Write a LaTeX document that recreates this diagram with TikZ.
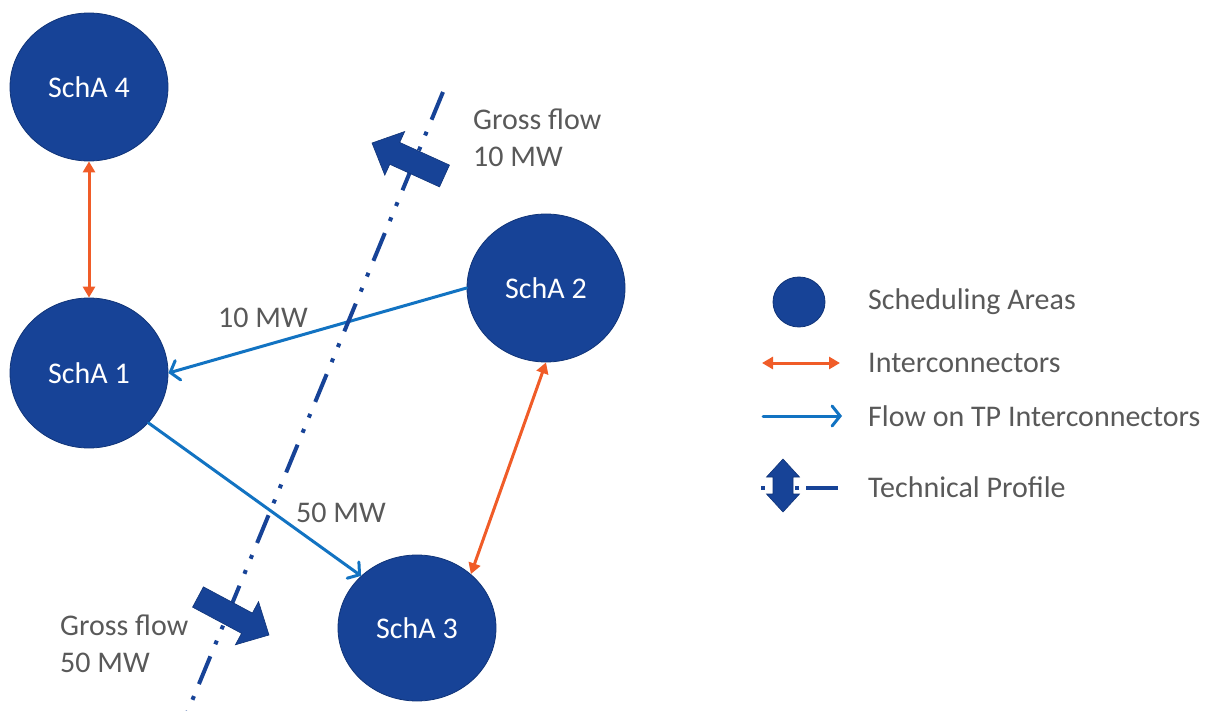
\documentclass[tikz,border=0pt]{standalone}
\usepackage{fontspec}
\setmainfont{Carlito}
\usetikzlibrary{arrows.meta,shapes.geometric,calc}
\definecolor{areablue}{RGB}{23,67,151}
\definecolor{areaedge}{RGB}{16,52,120}
\definecolor{flowblue}{RGB}{18,115,194}
\definecolor{icorange}{RGB}{240,92,40}
\definecolor{txtgray}{RGB}{89,89,89}
\tikzset{
  area/.style={ellipse, fill=areablue, draw=areaedge, line width=0.8pt, inner sep=0pt,
    text=white, font=\fontsize{30}{36}\selectfont},
  lbl/.style={text=txtgray, font=\fontsize{30}{37}\selectfont, inner sep=0pt},
  icarrow/.style={draw=icorange, line width=3pt,
    {Triangle[length=11pt,width=12pt]}-{Triangle[length=11pt,width=12pt]}, shorten <=0pt, shorten >=0pt},
  flowarrow/.style={draw=flowblue, line width=3pt, line cap=round,
    -{Straight Barb[length=8pt,width=20pt,line cap=round]}},
  profile/.style={draw=areablue, line width=4pt,
    dash pattern=on 30pt off 13pt on 4pt off 12.3pt on 4pt off 13pt},
  blockarrow/.style={fill=areablue, draw=areaedge, line width=0.6pt}
}
\begin{document}
\begin{tikzpicture}[x=1pt,y=-1pt]
\useasboundingbox (0,0) rectangle (1207,711);
% scheduling areas
\node[area, minimum width=158pt, minimum height=148pt] (s4) at (89,87) {SchA 4};
\node[area, minimum width=158pt, minimum height=150pt] (s1) at (89,373) {SchA 1};
\node[area, minimum width=158pt, minimum height=148pt] (s2) at (546,288) {SchA 2};
\node[area, minimum width=158pt, minimum height=146pt] (s3) at (417,628) {SchA 3};
% interconnectors
\draw[icarrow] (s4) -- (s1);
\draw[icarrow] (s2.south) -- (s3.45);
% flows
\draw[flowarrow] (s2.west) -- (s1.east);
\draw[flowarrow] (s1.-40) -- (s3.137);
\node[lbl] (l10) at (263,318) {10 MW};
\node[lbl] (l50) at (341,513) {50 MW};
% technical profile line
\coordinate (pa) at (443,92);
\coordinate (pb) at (187,713);
\draw[profile] (pa) -- (pb);
% gross flow block arrows
\coordinate (t1) at (444.5,176);
\coordinate (p1) at (372,143);
\coordinate (h1) at ($(p1)!25pt!(t1)$);
\fill[blockarrow] ($(t1)!12pt!90:(p1)$) -- ($(h1)!12pt!-90:(t1)$) -- ($(h1)!24pt!-90:(t1)$) -- (p1)
  -- ($(h1)!24pt!90:(t1)$) -- ($(h1)!12pt!90:(t1)$) -- ($(t1)!12pt!-90:(p1)$) -- cycle;
\coordinate (t2) at (198,597);
\coordinate (p2) at (269,635);
\coordinate (h2) at ($(p2)!25pt!(t2)$);
\fill[blockarrow] ($(t2)!11.5pt!90:(p2)$) -- ($(h2)!11.5pt!-90:(t2)$) -- ($(h2)!24.5pt!-90:(t2)$) -- (p2)
  -- ($(h2)!24.5pt!90:(t2)$) -- ($(h2)!11.5pt!90:(t2)$) -- ($(t2)!11.5pt!-90:(p2)$) -- cycle;
\node[lbl, align=left, anchor=west] (g10) at (473,138) {Gross flow\\10 MW};
\node[lbl, align=left, anchor=west] (g50) at (60,644) {Gross flow\\50 MW};
% legend
\node[area, minimum width=52pt, minimum height=50pt] (lg1) at (799,302) {};
\node[lbl, anchor=west] (lt1) at (868,302) {Scheduling Areas};
\coordinate (la1) at (762,363);
\coordinate (lb1) at (840,363);
\draw[icarrow] (la1) -- (lb1);
\node[lbl, anchor=west] (lt2) at (868,363) {Interconnectors};
\coordinate (la2) at (763,416);
\coordinate (lb2) at (842,416);
\draw[flowarrow] (la2) -- (lb2);
\node[lbl, anchor=west] (lt3) at (868,416) {Flow on TP Interconnectors};
\coordinate (la3) at (761,488);
\coordinate (lb3) at (840,488);
\draw[draw=areablue, line width=4pt, dash pattern=on 4pt off 30pt on 4pt off 7pt on 32pt] (la3) -- (lb3);
\fill[blockarrow] (783,459) -- (799.5,477) -- (793,477) -- (793,494) -- (799.5,494) -- (783,512)
  -- (766.5,494) -- (773,494) -- (773,477) -- (766.5,477) -- cycle;
\node[lbl, anchor=west] (lt4) at (868,487) {Technical Profile};
\end{tikzpicture}
\end{document}
